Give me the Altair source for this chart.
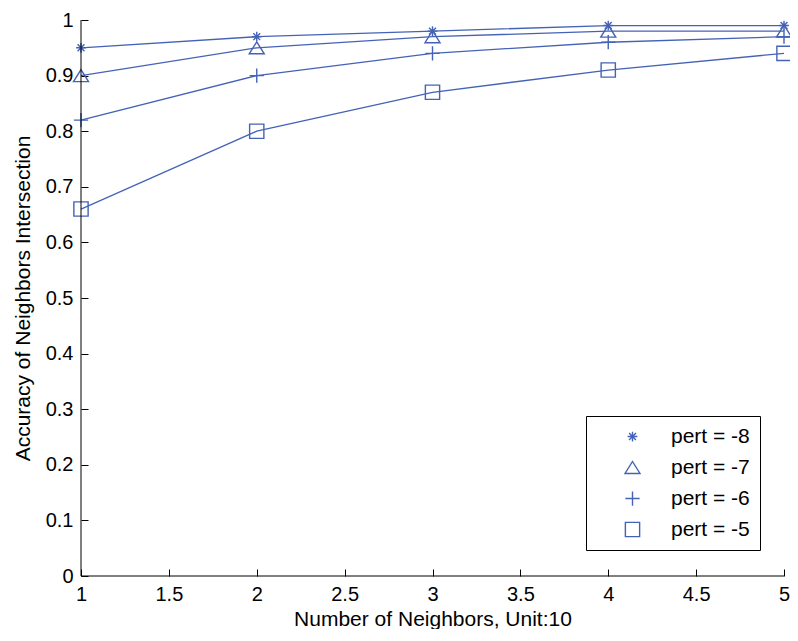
import altair as alt
import pandas as pd

# ---- data ----
x_vals = [1, 2, 3, 4, 5]
pert8 = [0.95, 0.97, 0.98, 0.99, 0.99]
pert7 = [0.90, 0.95, 0.97, 0.98, 0.98]
pert6 = [0.82, 0.90, 0.94, 0.96, 0.97]
pert5 = [0.66, 0.80, 0.87, 0.91, 0.94]
series_names = ["pert = -8", "pert = -7", "pert = -6", "pert = -5"]
x_ticks = [1, 1.5, 2, 2.5, 3, 3.5, 4, 4.5, 5]
y_ticks = [0, 0.1, 0.2, 0.3, 0.4, 0.5, 0.6, 0.7, 0.8, 0.9, 1]

rows = []
for name, vals in zip(series_names, [pert8, pert7, pert6, pert5]):
    for xv, yv in zip(x_vals, vals):
        rows.append({"x": xv, "y": yv, "series": name})
df = pd.DataFrame(rows)

BLUE = "#4563b6"
FONT = "Liberation Sans"

# marker shapes (MATLAB-like: asterisk, triangle, plus, square)
STAR = ("M-0.65,0L0.65,0M0,-0.65L0,0.65M-0.46,-0.46L0.46,0.46"
        "M-0.46,0.46L0.46,-0.46")
TRI = "M0,-0.8L1,0.8L-1,0.8Z"
PLUS = "M-0.95,0L0.95,0M0,-0.95L0,0.95"
SQUARE = "M-0.95,-0.95L0.95,-0.95L0.95,0.95L-0.95,0.95Z"

x_scale = alt.Scale(domain=[1, 5], nice=False, zero=False)
y_scale = alt.Scale(domain=[0, 1], nice=False, zero=False)

common_axis = dict(
    grid=False, domain=False, offset=-7, tickSize=7, tickColor="black",
    tickWidth=1, labelPadding=8, labelFontSize=20, labelFont=FONT,
    labelColor="black", titleFont=FONT, titleFontSize=21, titleColor="black",
    titleFontWeight="normal", labelFlush=False, labelOverlap=False,
    format="~g",
)
x_axis = alt.Axis(values=x_ticks, title="Number of Neighbors, Unit:10",
                  titlePadding=4, **common_axis)
y_axis = alt.Axis(values=y_ticks, title="Accuracy of Neighbors Intersection",
                  titlePadding=12, **common_axis)

base = alt.Chart(df)

lines = base.mark_line(color=BLUE, strokeWidth=1.3).encode(
    x=alt.X("x:Q", scale=x_scale, axis=x_axis),
    y=alt.Y("y:Q", scale=y_scale, axis=y_axis),
    detail="series:N",
)

points = base.mark_point(filled=False, size=225, strokeWidth=1.4,
                         color=BLUE, opacity=1).encode(
    x=alt.X("x:Q", scale=x_scale, axis=x_axis),
    y=alt.Y("y:Q", scale=y_scale, axis=y_axis),
    shape=alt.Shape(
        "series:N",
        scale=alt.Scale(domain=series_names, range=[STAR, TRI, PLUS, SQUARE]),
        legend=alt.Legend(
            title=None, orient="none", legendX=505, legendY=396,
            strokeColor="black", fillColor="white", padding=10,
            symbolOffset=26, labelOffset=28, symbolSize=225,
            symbolStrokeColor=BLUE, symbolStrokeWidth=1.4,
            symbolFillColor="transparent", labelFontSize=21, labelFont=FONT,
            labelColor="black", rowPadding=9, labelLimit=0,
        ),
    ),
)

one = pd.DataFrame({"a": [0]})
xline = alt.Chart(one).mark_rule(color="black", strokeWidth=1).encode(
    x=alt.XDatum(1, scale=x_scale),
    x2=alt.X2Datum(5),
    y=alt.YDatum(0, scale=y_scale),
)
yline = alt.Chart(one).mark_rule(color="black", strokeWidth=1).encode(
    x=alt.XDatum(1, scale=x_scale),
    y=alt.YDatum(0, scale=y_scale),
    y2=alt.Y2Datum(1),
)

chart = alt.layer(lines, points, xline, yline).properties(
    width=703, height=556,
    autosize=alt.AutoSizeParams(type="none"),
    padding={"left": 73, "top": 12, "right": 6, "bottom": 53},
    background="white",
).configure_view(stroke=None)

chart.save("out.html", embed_options={"renderer": "svg", "actions": False})
